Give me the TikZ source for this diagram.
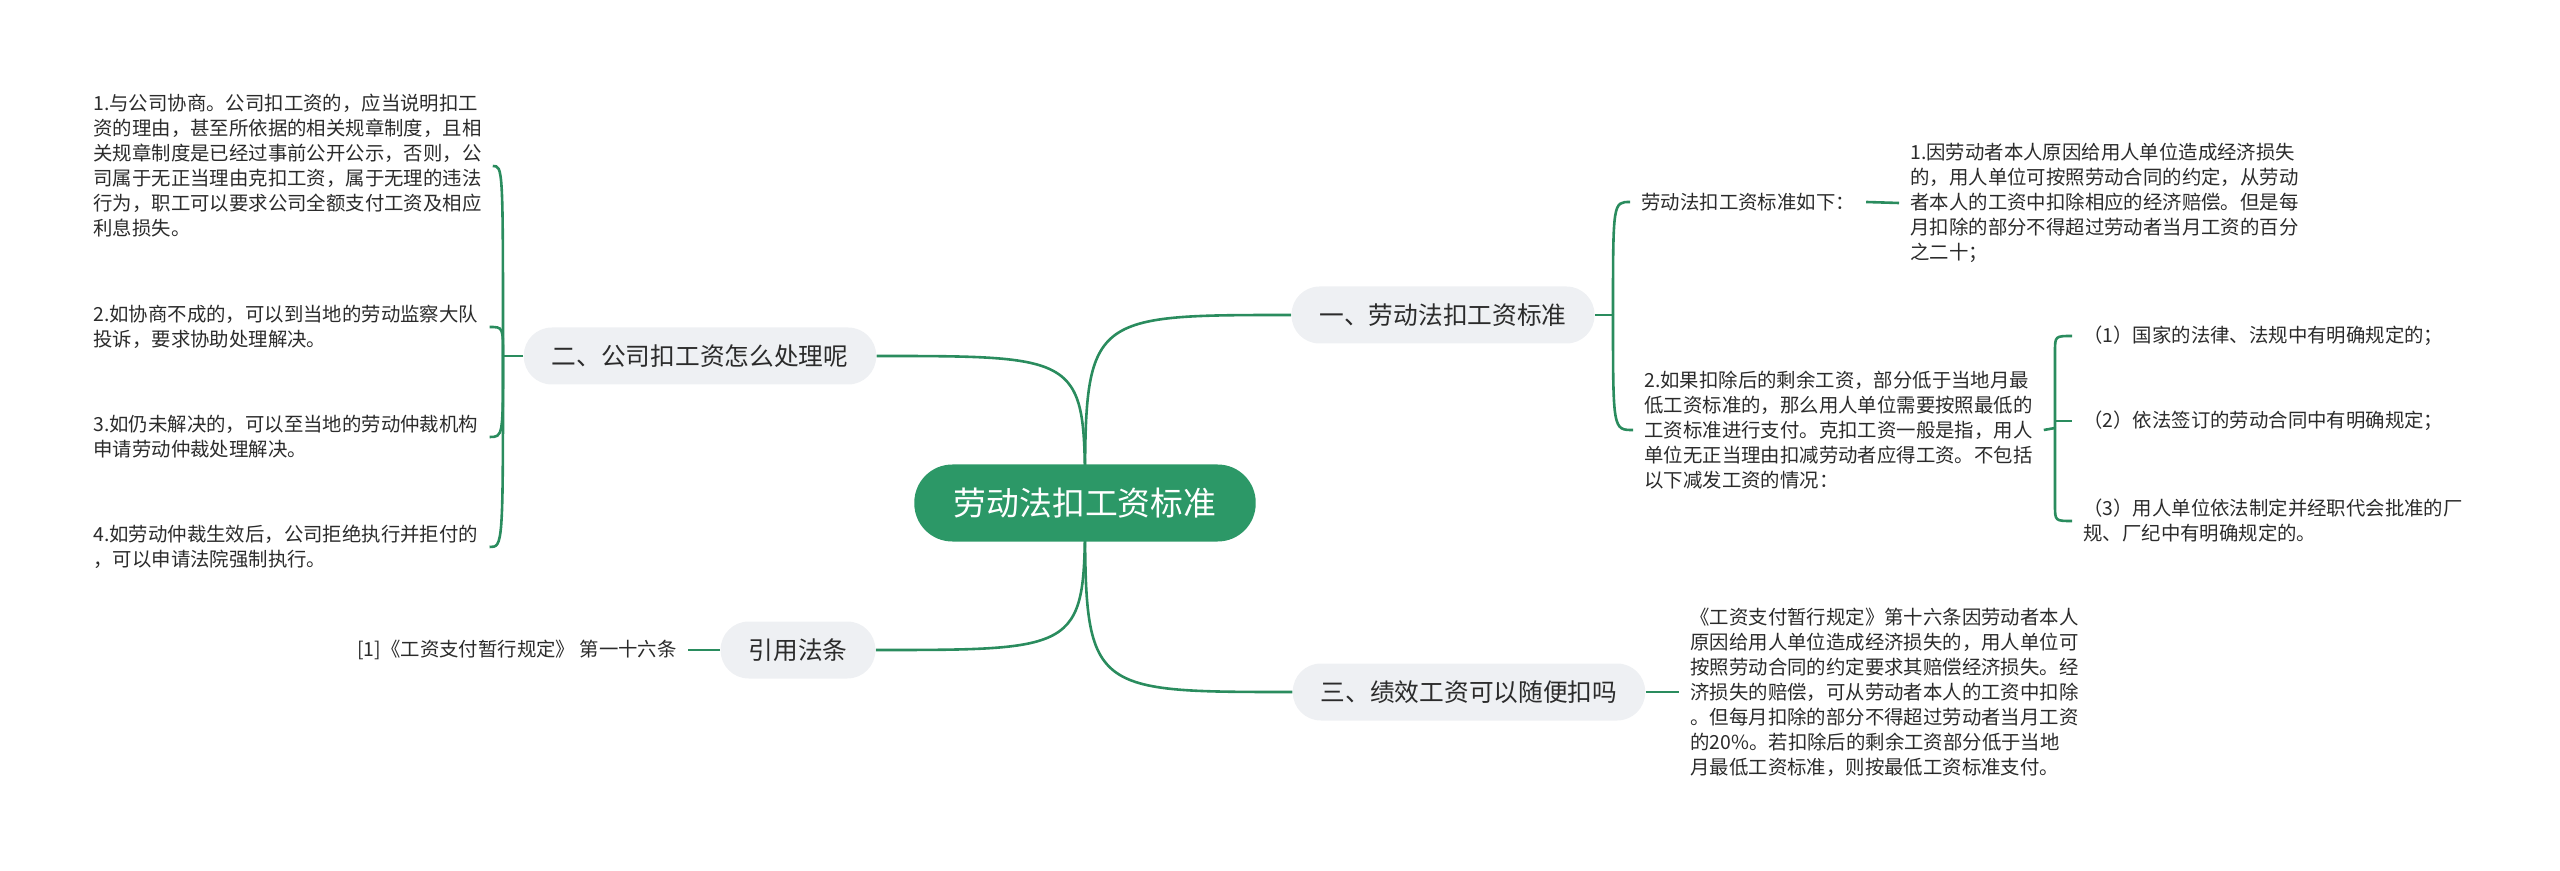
\documentclass[tikz,border=0pt]{standalone}
\usepackage{fontspec}
\setmainfont{Noto Sans CJK SC}
\usetikzlibrary{backgrounds,calc}
\definecolor{lineg}{HTML}{2A8C5E}
\definecolor{rootg}{HTML}{2C9867}
\definecolor{nodebg}{HTML}{EEF0F3}
\definecolor{txt}{HTML}{2B2B2B}
\begin{document}
\begin{tikzpicture}[x=0.5pt,y=-0.5pt,
 root/.style={fill=rootg, text=white, font=\fontsize{16.4pt}{20pt}\selectfont, rounded corners=19pt, minimum height=38.5pt, inner xsep=19.75pt, inner ysep=0pt},
 branch/.style={fill=nodebg, text=txt, font=\fontsize{12.35pt}{15pt}\selectfont, rounded corners=14pt, minimum height=28.5pt, inner xsep=14pt, inner ysep=0pt},
 leaf/.style={text=txt, font=\fontsize{9.7pt}{12.5pt}\selectfont, align=left, inner xsep=5.5pt, inner ysep=0pt},
 conn/.style={draw=lineg, line width=1.3pt},
]
\useasboundingbox (0,0) rectangle (2560,871);
% main nodes
\node[root] (root) at (1085,503) {劳动法扣工资标准};
\node[branch] (b2) at (700,356) {二、公司扣工资怎么处理呢};
\node[branch] (bc) at (798,650) {引用法条};
\node[branch] (b1) at (1443,315) {一、劳动法扣工资标准};
\node[branch] (b3) at (1469,692) {三、绩效工资可以随便扣吗};
% left leaves
\node[leaf, anchor=west] (l1) at (82,166) {1.与公司协商。公司扣工资的，应当说明扣工\\资的理由，甚至所依据的相关规章制度，且相\\关规章制度是已经过事前公开公示，否则，公\\司属于无正当理由克扣工资，属于无理的违法\\行为，职工可以要求公司全额支付工资及相应\\利息损失。};
\node[leaf, anchor=west] (l2) at (82,327) {2.如协商不成的，可以到当地的劳动监察大队\\投诉，要求协助处理解决。};
\node[leaf, anchor=west] (l3) at (82,437) {3.如仍未解决的，可以至当地的劳动仲裁机构\\申请劳动仲裁处理解决。};
\node[leaf, anchor=west] (l4) at (82,547) {4.如劳动仲裁生效后，公司拒绝执行并拒付的\\，可以申请法院强制执行。};
\node[leaf, anchor=east] (lc) at (688,650) {[1]《工资支付暂行规定》 第一十六条};
% right leaves
\node[leaf, anchor=west] (r1) at (1630,202) {劳动法扣工资标准如下：};
\node[leaf, anchor=west] (r1t) at (1899,203) {1.因劳动者本人原因给用人单位造成经济损失\\的，用人单位可按照劳动合同的约定，从劳动\\者本人的工资中扣除相应的经济赔偿。但是每\\月扣除的部分不得超过劳动者当月工资的百分\\之二十；};
\node[leaf, anchor=west] (r2) at (1633,430) {2.如果扣除后的剩余工资，部分低于当地月最\\低工资标准的，那么用人单位需要按照最低的\\工资标准进行支付。克扣工资一般是指，用人\\单位无正当理由扣减劳动者应得工资。不包括\\以下减发工资的情况：};
\node[leaf, anchor=west] (s1) at (2072,336) {（1）国家的法律、法规中有明确规定的；};
\node[leaf, anchor=west] (s2) at (2072,421) {（2）依法签订的劳动合同中有明确规定；};
\node[leaf, anchor=west] (s3) at (2072,521) {（3）用人单位依法制定并经职代会批准的厂\\规、厂纪中有明确规定的。};
\node[leaf, anchor=west] (t3) at (1679,692) {《工资支付暂行规定》第十六条因劳动者本人\\原因给用人单位造成经济损失的，用人单位可\\按照劳动合同的约定要求其赔偿经济损失。经\\济损失的赔偿，可从劳动者本人的工资中扣除\\。但每月扣除的部分不得超过劳动者当月工资\\的20\%。若扣除后的剩余工资部分低于当地\\月最低工资标准，则按最低工资标准支付。};
% junctions
\coordinate (jL) at (503,356);
\coordinate (jR) at (1613,315);
\coordinate (jS) at (2055,428);
\begin{scope}[on background layer]
\draw[conn] (root.center) .. controls (root.center |- b1.west) .. (b1.west);
\draw[conn] (root.center) .. controls (root.center |- b3.west) .. (b3.west);
\draw[conn] (root.center) .. controls (root.center |- b2.east) .. (b2.east);
\draw[conn] (root.center) .. controls (root.center |- bc.east) .. (bc.east);
\draw[conn] (b2.west) -- (jL);
\foreach \nn in {l1,l2,l3,l4} \draw[conn] (jL) .. controls (jL |- \nn.east) .. (\nn.east);
\draw[conn] (bc.west) -- (lc.east);
\draw[conn] (b1.east) -- (jR);
\foreach \nn in {r1,r2} \draw[conn] (jR) .. controls (jR |- \nn.west) .. (\nn.west);
\draw[conn] (r1.east) -- (r1t.west);
\draw[conn] (r2.east) -- (jS);
\draw[conn] (jS) -- ($(jS |- s1.west)+(0,16)$) .. controls (jS |- s1.west) .. (s1.west);
\draw[conn] (jS) -- ($(jS |- s3.west)+(0,-16)$) .. controls (jS |- s3.west) .. (s3.west);
\draw[conn] (jS) -- (jS |- s2.west) -- (s2.west);
\draw[conn] (b3.east) -- (t3.west);
\end{scope}
\end{tikzpicture}
\end{document}
